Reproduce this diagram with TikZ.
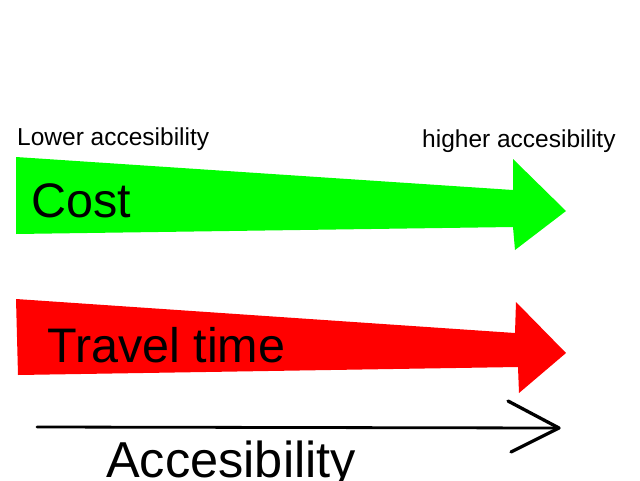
\documentclass[tikz,border=0pt]{standalone}
\usepackage{fontspec}
\setmainfont{Liberation Sans}
\begin{document}
\begin{tikzpicture}[x=1pt,y=-1pt,
  lbl/.style={inner sep=0pt, anchor=base west, font=\fontsize{24.5}{28}\selectfont},
  big/.style={inner sep=0pt, anchor=base west, font=\fontsize{48.5}{56}\selectfont},
  axis/.style={line width=2.8pt, line cap=round, line join=round}]
\useasboundingbox (0,0) rectangle (640,480);
\clip (0,0) rectangle (640,480);
\fill[white] (0,0) rectangle (640,480);
% green arrow
\fill[green] (16,157) -- (513,190) -- (513,159) -- (566,211) -- (515,250) -- (513,227) -- (16,234) -- cycle;
% red arrow
\fill[red] (16,299) -- (515,333) -- (516,302) -- (566,353) -- (519,393) -- (518,367) -- (18,375) -- cycle;
% accessibility axis
\coordinate (axS) at (37,427);
\coordinate (axE) at (559,428);
\coordinate (hdT) at (508,401);
\coordinate (hdB) at (511,452);
\draw[axis] (axS) -- (axE);
\draw[axis, line width=3.3pt] (hdT) -- (axE) -- (hdB);
% labels
\node[lbl] (low) at (17,145) {Lower accesibility};
\node[lbl] (high) at (422,147) {higher accesibility};
\node[big] (cost) at (31,217) {Cost};
\node[big] (tt) at (47,362) {Travel time};
\node[big, font=\fontsize{50.5}{58}\selectfont] (acc) at (106,477.5) {Accesibility};
\end{tikzpicture}
\end{document}
